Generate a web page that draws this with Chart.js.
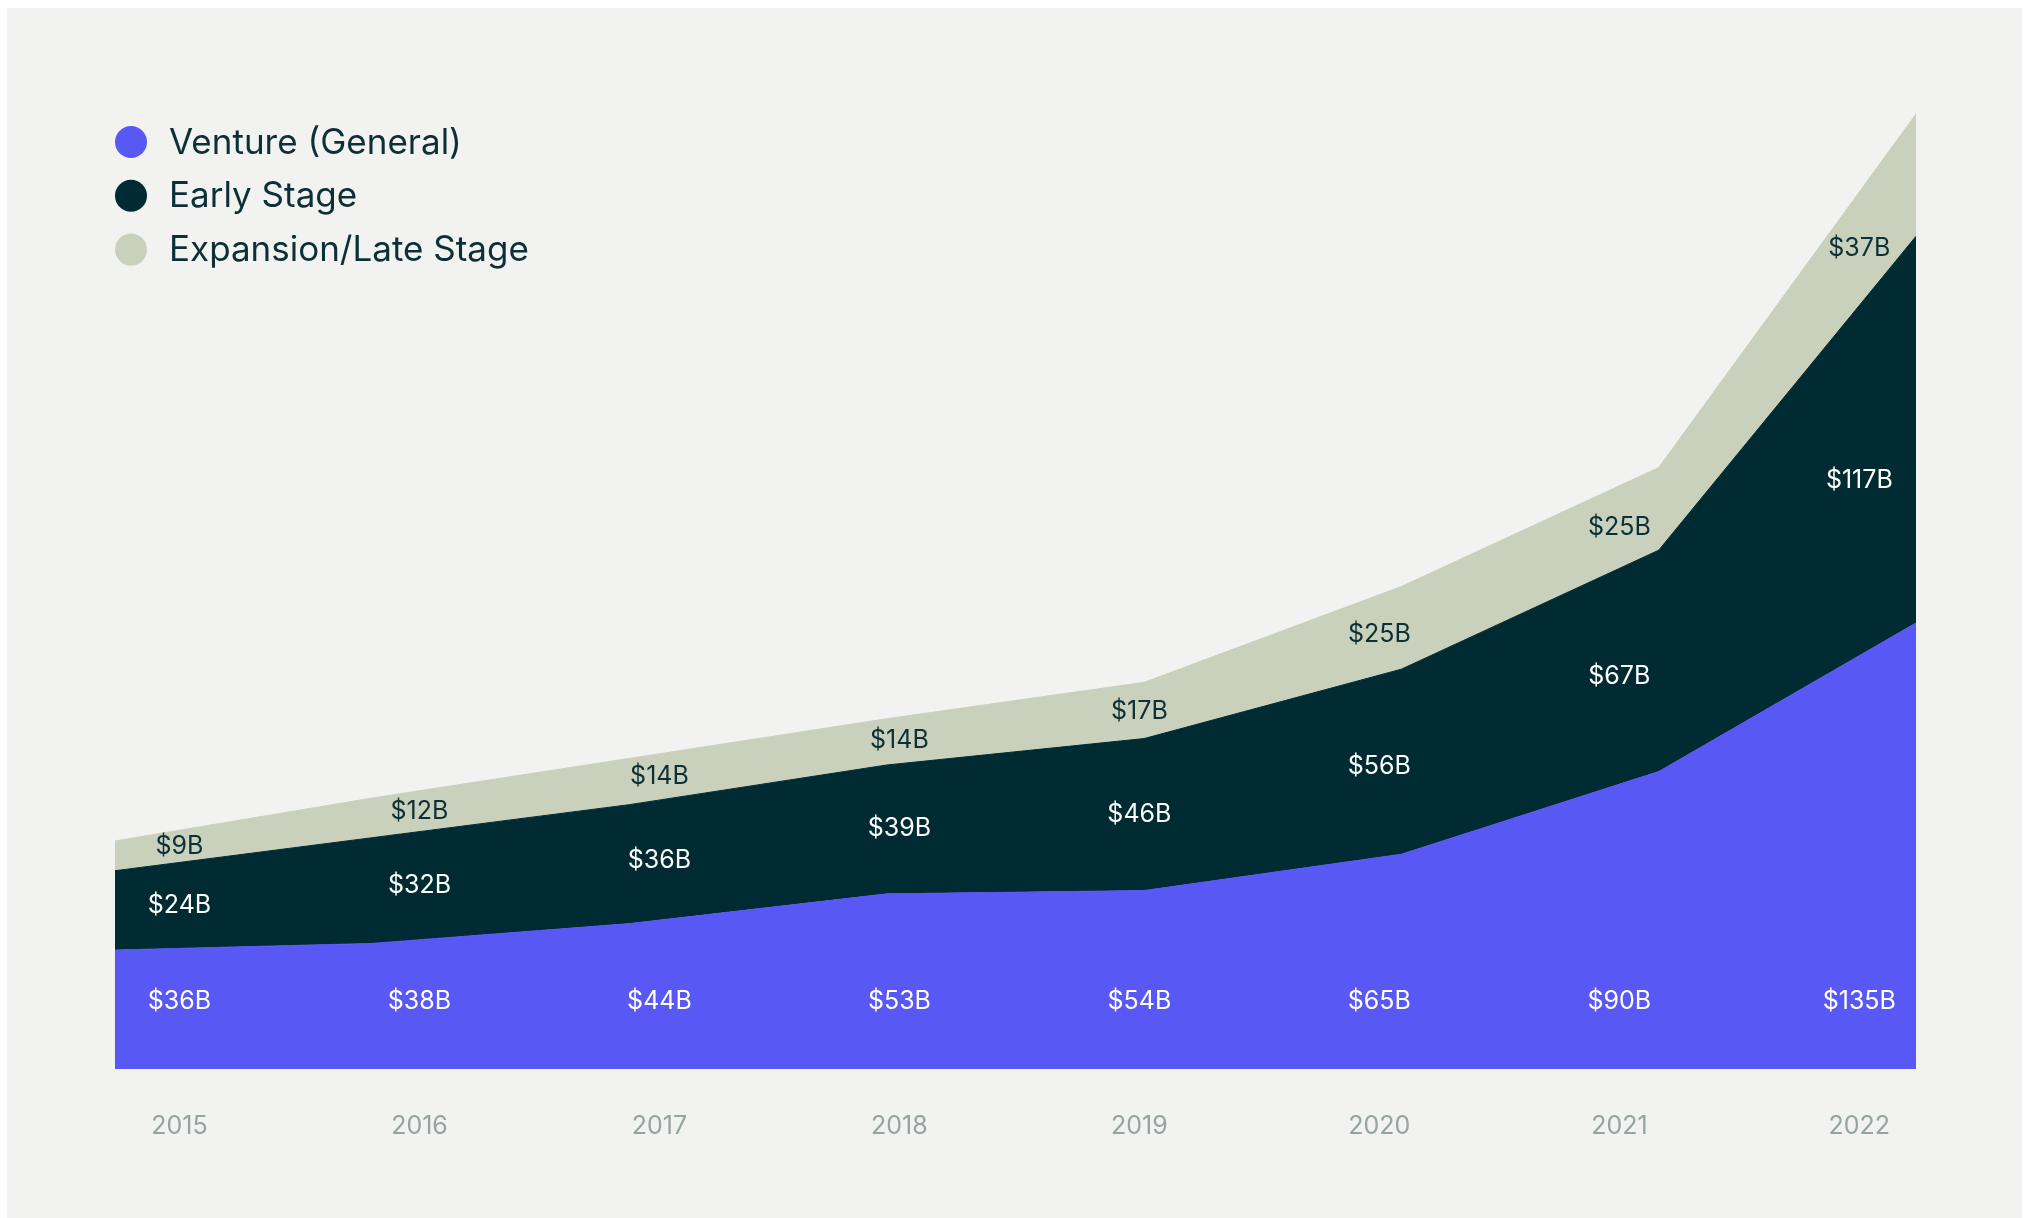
<!DOCTYPE html>
<html>
<head>
<meta charset="utf-8">
<script src="https://cdn.jsdelivr.net/npm/chart.js@4"></script>
<style>
  html, body { margin: 0; padding: 0; background: #ffffff; }
  body { width: 2036px; height: 1218px; position: relative; overflow: hidden; font-family: Inter, "Noto Sans", sans-serif; }
  #panel { position: absolute; left: 7px; top: 8px; width: 2015px; height: 1210px; background: #f2f2f0; }
  #wrap { position: absolute; left: 0; top: 0; width: 2036px; height: 1218px; }
</style>
</head>
<body>
<div id="panel"></div>
<div id="wrap"><canvas id="c-funds"></canvas></div>
<script>
// Capital raised per year, in billions of dollars, by fund type.
const years     = ['2015', '2016', '2017', '2018', '2019', '2020', '2021', '2022'];
const venture   = [36, 38, 44, 53, 54, 65, 90, 135];
const early     = [24, 32, 36, 39, 46, 56, 67, 117];
const expansion = [9, 12, 14, 14, 17, 25, 25, 37];

const seriesNames  = ['Venture (General)', 'Early Stage', 'Expansion/Late Stage'];
const seriesColors = ['#5858f4', '#002b32', '#c9d0bc'];
const labelColors  = ['#ffffff', '#ffffff', '#0d3036'];

const INK = '#0d3036';
const FONT = 'Inter, "Noto Sans", sans-serif';

// Legend in the top-left corner, one row per series.
const cornerLegend = { id: 'cornerLegend', afterDraw(chart) {
  const { ctx } = chart;
  ctx.save();
  ctx.font = `35px ${FONT}`;
  ctx.textAlign = 'left'; ctx.textBaseline = 'middle';
  seriesNames.forEach((name, i) => {
    const y = 142 + i * 53.8;
    ctx.fillStyle = seriesColors[i];
    ctx.beginPath();
    ctx.arc(131, y, 16, 0, Math.PI * 2);
    ctx.fill();
    ctx.fillStyle = INK;
    ctx.fillText(name, 169, y + 1);
  });
  ctx.restore();
}};

// Value labels: the bottom series sits on a fixed line near the base,
// the others in the middle of their band, under each year's tick.
const bandLabels = { id: 'bandLabels', afterDatasetsDraw(chart) {
  const { ctx, chartArea, scales: { years: yx } } = chart;
  const edgeAt = (i, px) => {
    if (i < 0) return chartArea.bottom;
    const pts = chart.getDatasetMeta(i).data;
    for (let k = 0; k < pts.length - 1; k++) {
      const a = pts[k], b = pts[k + 1];
      if (px >= a.x && px <= b.x) return a.y + (b.y - a.y) * (px - a.x) / (b.x - a.x);
    }
    return pts[pts.length - 1].y;
  };
  ctx.save();
  ctx.font = `25px ${FONT}`;
  ctx.textAlign = 'center'; ctx.textBaseline = 'middle';
  chart.data.datasets.forEach((ds, i) => {
    ds.data.forEach((v, j) => {
      const px = yx.getPixelForValue(j);
      const py = i === 0 ? chartArea.bottom - 68 : (edgeAt(i, px) + edgeAt(i - 1, px)) / 2;
      ctx.fillStyle = labelColors[i];
      ctx.fillText(`$${v}B`, px, py);
    });
  });
  ctx.restore();
}};

const totals = years.map((_, i) => venture[i] + early[i] + expansion[i]);

new Chart(document.getElementById('c-funds').getContext('2d'), {
  type: 'line',
  data: {
    labels: years,
    datasets: [venture, early, expansion].map((data, i) => ({
      label: seriesNames[i],
      data,
      backgroundColor: seriesColors[i],
      borderColor: seriesColors[i],
      borderWidth: 1,
      pointRadius: 0,
      tension: 0,
      fill: i === 0 ? 'origin' : '-1',
    }))
  },
  options: {
    responsive: true,
    maintainAspectRatio: false,
    animation: false,
    events: [],
    layout: { padding: { left: 115, right: 120, top: 114, bottom: 35 } },
    plugins: { legend: { display: false }, tooltip: { enabled: false } },
    scales: {
      x: { display: false, offset: false },
      // Year ticks sit on their own axis, slightly inset from the area's ends.
      years: {
        type: 'linear',
        position: 'bottom',
        min: -0.2688, max: 7.2362,
        grid: { display: false, drawTicks: false },
        border: { display: false },
        ticks: {
          stepSize: 1, includeBounds: false, autoSkip: false, maxRotation: 0,
          padding: 42, color: '#97a3a3', font: { family: FONT, size: 25 },
          callback: v => years[v] ?? ''
        }
      },
      y: { display: false, stacked: true, min: 0, max: Math.max(...totals) }
    }
  },
  plugins: [bandLabels, cornerLegend]
});
</script>
</body>
</html>
